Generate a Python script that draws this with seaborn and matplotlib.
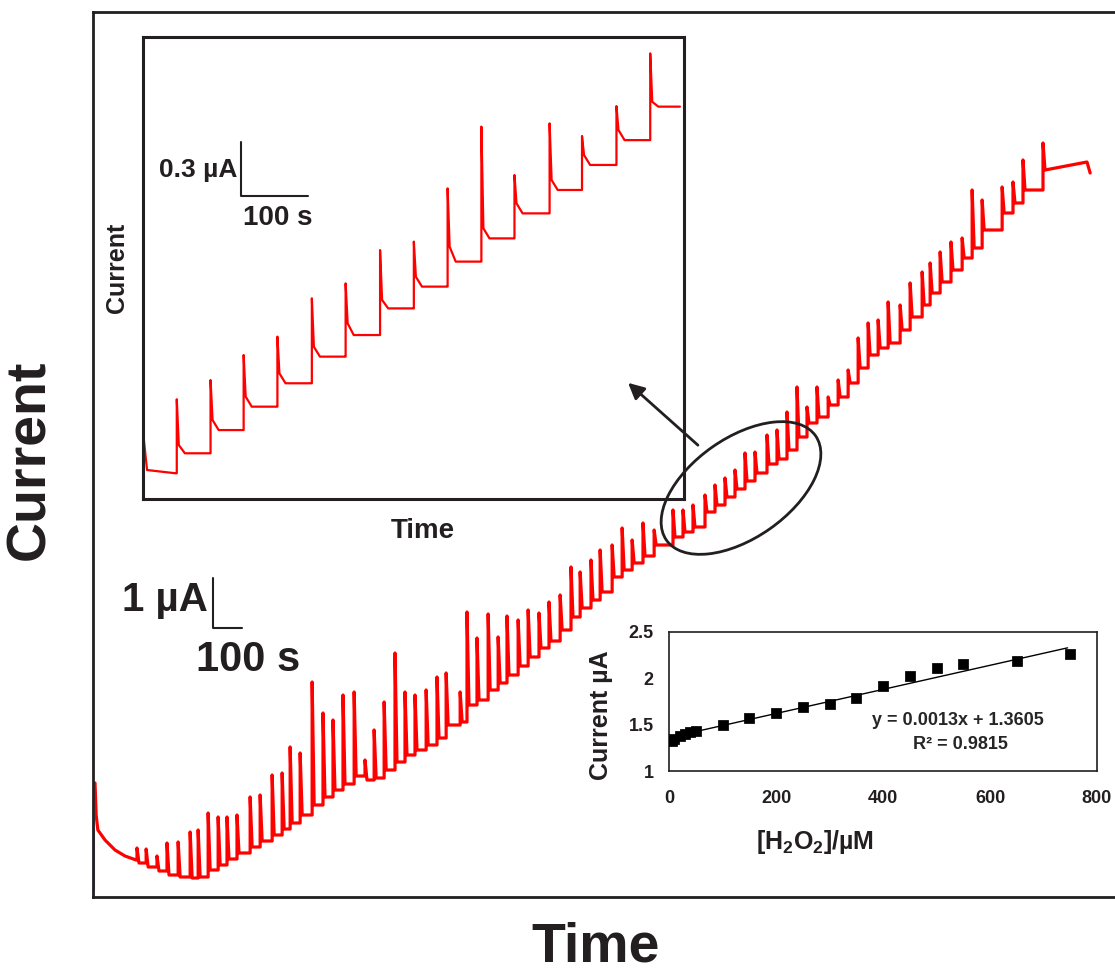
import numpy as np
import seaborn as sns
import matplotlib.pyplot as plt
from matplotlib.patches import Ellipse

############ data ############
# main amperometric trace: time (s), current (uA)
main_start_t = [0, 4, 10, 35, 70, 105, 144]
main_start_i = [2.34, 1.70, 1.40, 1.20, 1.00, 0.88, 0.80]

main_step_t = [147, 179, 217, 252, 291, 333, 361, 396, 431, 462,
               497, 543, 578, 620, 655, 683, 718, 760, 798, 833,
               868, 907, 945, 977, 1012, 1050, 1085, 1120, 1159, 1197,
               1229, 1278, 1302, 1337, 1376, 1411, 1442, 1481, 1516, 1554,
               1589, 1628, 1666, 1698, 1736, 1768, 1810, 1845, 1880, 1918,
               1957, 2023, 2058, 2093, 2135, 2170, 2205, 2240, 2275, 2310,
               2352, 2387, 2422, 2457, 2492, 2527, 2566, 2601, 2636, 2671,
               2706, 2741, 2776, 2818, 2853, 2895, 2923, 2958, 2996, 3035,
               3070, 3105, 3175, 3213, 3248, 3318]
main_peak_i = [1.04, 1.02, 0.88, 1.14, 1.16, 1.36, 1.40, 1.74, 1.66, 1.66,
               1.70, 2.06, 2.10, 2.50, 2.54, 3.06, 2.94, 4.36, 3.74, 3.60,
               4.10, 4.16, 2.80, 3.40, 3.96, 4.94, 4.16, 4.10, 4.20, 4.46,
               4.54, 4.16, 5.76, 5.24, 5.72, 5.26, 5.68, 5.60, 5.80, 5.74,
               5.96, 6.10, 6.66, 6.56, 6.80, 7.00, 7.10, 7.44, 7.20, 7.54,
               7.40, 7.80, 7.80, 7.90, 8.10, 8.30, 8.44, 8.60, 8.94, 8.96,
               9.30, 9.40, 9.76, 10.26, 9.86, 10.26, 10.06, 10.40, 10.60, 11.24,
               11.54, 11.60, 11.96, 11.90, 12.34, 12.56, 12.74, 12.96, 13.16, 13.24,
               14.20, 14.00, 14.26, 14.36, 14.80, 15.14]
main_level_i = [0.74, 0.66, 0.58, 0.50, 0.46, 0.44, 0.46, 0.60, 0.70, 0.82,
                0.94, 1.06, 1.18, 1.30, 1.42, 1.54, 1.70, 1.90, 2.06, 2.20,
                2.32, 2.48, 2.40, 2.44, 2.60, 2.76, 2.90, 3.00, 3.10, 3.24,
                3.50, 3.56, 3.90, 4.00, 4.20, 4.34, 4.50, 4.68, 4.86, 5.04,
                5.18, 5.40, 5.66, 5.84, 6.00, 6.16, 6.46, 6.60, 6.74, 6.88,
                7.10, 7.26, 7.36, 7.46, 7.76, 7.90, 8.06, 8.22, 8.38, 8.54,
                8.72, 8.82, 9.00, 9.26, 9.54, 9.66, 9.90, 10.06, 10.34, 10.64,
                10.90, 11.04, 11.14, 11.40, 11.66, 11.90, 12.14, 12.36, 12.60, 12.84,
                13.04, 13.40, 13.74, 13.94, 14.20, 14.60]
main_end_t = [3472, 3483]
main_end_i = [14.76, 14.54]
blue_t = [-4, -4]
blue_i = [0.2, 1.7]

# zoomed trace (top-left inset)
inset_start_t = [0, 6, 48]
inset_start_i = [0.374, 0.161, 0.143]
inset_step_t = [50, 100, 149, 199, 250, 300, 351, 401, 451, 501, 550, 602, 650, 701, 751]
inset_peak_i = [0.554, 0.661, 0.800, 0.902, 1.115, 1.198, 1.383, 1.430, 1.726, 2.069,
                1.800, 2.087, 2.017, 2.183, 2.476]
inset_after_i = [0.300, 0.439, 0.569, 0.698, 0.846, 0.976, 1.106, 1.235, 1.402, 1.504,
                 1.643, 1.772, 1.911, 2.050, 2.207]
inset_before_i = [0.254, 0.383, 0.513, 0.643, 0.791, 0.911, 1.059, 1.180, 1.319, 1.448,
                  1.587, 1.717, 1.856, 1.994, 2.180]
inset_end_t = 796

# calibration (bottom-right inset)
conc = [5, 10, 20, 30, 40, 50, 100, 150, 200, 250, 300, 350, 400, 450, 500, 550, 650, 750]
calib_i = [1.32, 1.35, 1.38, 1.40, 1.42, 1.43, 1.50, 1.57, 1.625, 1.69, 1.725, 1.786,
           1.92, 2.02, 2.11, 2.15, 2.19, 2.26]
slope, intercept = 0.0013, 1.3605
fit_x = [5, 745]

############ build polylines ############
mt, mi = list(main_start_t), list(main_start_i)
prev = main_start_i[-1]
for t, pk, lv in zip(main_step_t, main_peak_i, main_level_i):
    mt += [t, t, t + 7]
    mi += [prev, pk, lv]
    prev = lv
mt += main_end_t
mi += main_end_i

it, ii = list(inset_start_t), list(inset_start_i)
prev = inset_start_i[-1]
ends = inset_step_t[1:] + [inset_end_t]
for t, pk, af, bf, te in zip(inset_step_t, inset_peak_i, inset_after_i, inset_before_i, ends):
    # spike, short shoulder, then plateau
    it += [t, t, t + 3, t + 12, te - 1]
    ii += [prev, pk, af, bf, bf]
    prev = bf

############ plotting ############
sns.set_style('white')
plt.rcParams['font.family'] = ['Liberation Sans', 'DejaVu Sans']
plt.rcParams['font.weight'] = 'bold'
plt.rcParams['mathtext.fontset'] = 'custom'
plt.rcParams['mathtext.rm'] = 'Liberation Sans:bold'
plt.rcParams['mathtext.default'] = 'rm'

W, H = 1115, 971
fig = plt.figure(figsize=(W / 100, H / 100), dpi=100)
ink = '#231f20'

def px_axes(x0, y0, x1, y1):
    # axes from pixel box (top-left origin)
    return fig.add_axes([x0 / W, 1 - y1 / H, (x1 - x0) / W, (y1 - y0) / H])

# main panel
ax = px_axes(93, 12, 1115, 897)
sns.lineplot(x=mt, y=mi, sort=False, estimator=None, color='#ff0000', lw=2.3, ax=ax)
ax.plot(blue_t, blue_i, color='#7080c0', lw=1.5)
ax.set_xlim(-7, 3570)
ax.set_ylim(0.06, 17.76)
ax.set_xticks([]); ax.set_yticks([])
for s in ['left', 'top', 'bottom']:
    ax.spines[s].set_color(ink)
    ax.spines[s].set_linewidth(2)
ax.spines['right'].set_visible(False)
# 1 uA / 100 s scale bar
ax.plot([413, 413, 513], [6.44, 5.44, 5.44], color=ink, lw=1.5)
ax.text(395, 6.0, '1 µA', ha='right', va='center', fontsize=29, fontweight='bold', color=ink)
ax.text(536, 4.8, '100 s', ha='center', va='center', fontsize=30, fontweight='bold', color=ink)

# zoomed inset
ax2 = px_axes(143, 37, 684, 499)
sns.lineplot(x=it, y=ii, sort=False, estimator=None, color='#ff0000', lw=1.6, ax=ax2)
ax2.set_xlim(0, 801)
ax2.set_ylim(0, 2.567)
ax2.set_xticks([]); ax2.set_yticks([])
for s in ax2.spines.values():
    s.set_color(ink)
    s.set_linewidth(2.2)
ax2.plot([145, 145, 245], [1.983, 1.683, 1.683], color=ink, lw=1.5)
ax2.text(140, 1.83, '0.3 µA', ha='right', va='center', fontsize=19, fontweight='bold', color=ink)
ax2.text(200, 1.56, '100 s', ha='center', va='center', fontsize=20, fontweight='bold', color=ink)

# calibration inset
ax3 = px_axes(669, 632, 1097, 771)
sns.scatterplot(x=conc, y=calib_i, marker='s', s=45, color='black', edgecolor='black', ax=ax3, zorder=3)
fit_y = [slope * x + intercept for x in fit_x]
ax3.plot(fit_x, fit_y, color='black', lw=1)
ax3.set_xlim(0, 800)
ax3.set_ylim(1, 2.5)
ax3.set_xticks([0, 200, 400, 600, 800])
ax3.set_xticklabels(['0', '200', '400', '600', '800'])
ax3.set_yticks([1, 1.5, 2, 2.5])
ax3.set_yticklabels(['1', '1.5', '2', '2.5'])
ax3.tick_params(axis='both', direction='out', length=5, width=1, labelsize=13, colors=ink)
ax3.tick_params(axis='x', pad=9)
ax3.tick_params(axis='y', pad=6)
for lab in ax3.get_xticklabels() + ax3.get_yticklabels():
    lab.set_fontweight('bold')
for s in ax3.spines.values():
    s.set_color(ink)
    s.set_linewidth(1.2)
ax3.text(540, 1.55, 'y = 0.0013x + 1.3605', ha='center', va='center', fontsize=13, fontweight='bold')
ax3.text(545, 1.29, 'R² = 0.9815', ha='center', va='center', fontsize=13, fontweight='bold')

# text labels
fig.text(30 / W, 1 - 460 / H, 'Current', rotation=90, ha='center', va='center', fontsize=40, fontweight='bold', color=ink)
fig.text(596 / W, 1 - 947 / H, 'Time', ha='center', va='center', fontsize=40, fontweight='bold', color=ink)
fig.text(117 / W, 1 - 268 / H, 'Current', rotation=90, ha='center', va='center', fontsize=18, fontweight='bold', color=ink)
fig.text(423 / W, 1 - 531 / H, 'Time', ha='center', va='center', fontsize=20, fontweight='bold', color=ink)
fig.text(601 / W, 1 - 715 / H, 'Current µA', rotation=90, ha='center', va='center', fontsize=18, fontweight='bold', color=ink)
fig.text(815 / W, 1 - 842 / H, '[H$_2$O$_2$]/µM', ha='center', va='center', fontsize=18, fontweight='bold', color=ink)

# ellipse + arrow pointing to the zoomed region
ov = fig.add_axes([0, 0, 1, 1], zorder=10)
ov.set_xlim(0, W); ov.set_ylim(0, H)
ov.axis('off')
ov.patch.set_alpha(0)
ov.add_patch(Ellipse((741, H - 488), 182, 100, angle=35, fill=False, ec=ink, lw=2))
ov.annotate('', xy=(626, H - 381), xytext=(700, H - 447),
            arrowprops=dict(arrowstyle='-|>', color=ink, lw=2, mutation_scale=24))

fig.savefig('out.png', dpi=100, facecolor='white')
